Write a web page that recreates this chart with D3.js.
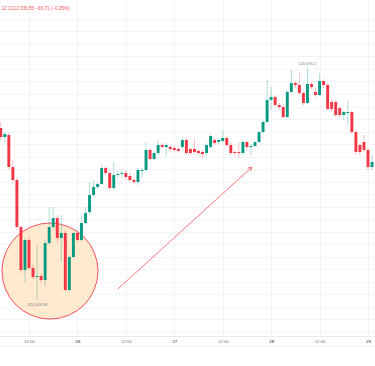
<!DOCTYPE html>
<html>
<head>
<meta charset="utf-8">
<script src="https://d3js.org/d3.v7.min.js"></script>
<style>
  html, body { margin: 0; padding: 0; background: #fff; }
  svg { display: block; font-family: "Liberation Sans", Arial, sans-serif; }
</style>
</head>
<body>
<div id="chart"></div>
<script>
// hourly candles, first one is 25 Jul 05:00
const firstHour = new Date(2025, 6, 25, 5);

const opens  = [118764,118567,118611,117912,117629,116603,115664,116319,115708,115511,
                115533,115446,116253,116603,116799,116362,116472,115227,115948,116472,
                116319,116690,116930,117301,117476,117541,117891,117781,117454,117738,
                117760,117781,117716,117629,117585,117825,117847,118284,118087,118218,
                118393,118349,118349,118327,118305,118349,118502,118305,118305,118262,
                118240,118218,118349,118502,118458,118480,118546,118393,118240,118240,
                118218,118458,118349,118371,118458,118676,118895,119375,119441,119266,
                119222,119004,119550,119746,119702,119528,119310,119724,119550,119484,
                119790,119702,119331,119331,119200,119048,119091,119113,118676,118393,
                118458,118284,117912];
const highs  = [118895,118676,118655,118065,117672,116646,116362,116406,115773,116210,
                115577,116319,117039,117039,116865,116865,116537,115991,116493,116537,
                116865,117039,117585,117629,117585,117956,117934,117847,118022,117847,
                117847,117847,117781,117672,117891,117891,118458,118327,118262,118502,
                118436,118436,118393,118371,118349,118567,118567,118349,118546,118305,
                118284,118436,118633,118546,118546,118720,118589,118436,118284,118458,
                118502,118480,118415,118480,118698,118938,119812,119659,119484,119310,
                119266,119593,120030,119790,119964,119571,120095,119768,119637,119964,
                119833,119746,119375,119375,119244,119157,119375,119157,118720,118436,
                118611,118327,118174];
const lows   = [118502,118458,117847,117519,116537,115598,115380,115664,115467,115009.58,
                115380,115293,116210,116559,116253,115839,115205,115184,115926,116275,
                116297,116646,116886,117258,117432,117519,117738,117410,117410,117672,
                117672,117629,117585,117541,117519,117694,117803,118043,118065,118174,
                118305,118131,118262,118240,118218,118305,118174,118174,118196,118174,
                118109,118174,118327,118393,118415,118436,118349,118174,118153,118109,
                118174,118284,118174,118349,118436,118655,118873,119157,119222,119157,
                118982,118982,119506,119637,119484,119266,119288,119615,119441,119462,
                119637,119157,119113,119004,118982,118938,118829,118633,118196,118174,
                118240,117847,117847];
const closes = [118567,118633,117912,117629,116603,115664,116319,115708,115511,115533,
                115446,116253,116603,116799,116362,116472,115227,115948,116472,116319,
                116690,116908,117301,117476,117541,117891,117781,117454,117738,117760,
                117781,117694,117629,117585,117847,117847,118284,118087,118218,118393,
                118349,118393,118305,118284,118262,118502,118218,118218,118240,118218,
                118196,118393,118589,118436,118502,118546,118393,118218,118218,118218,
                118458,118349,118371,118458,118676,118895,119375,119441,119266,119222,
                119004,119550,119746,119702,119528,119310,119724,119659,119484,119790,
                119702,119179,119179,119048,119048,119113,119113,118676,118240,118240,
                118284,117912,118022];

const tickTimes  = [new Date(2025,6,25,12), new Date(2025,6,26), new Date(2025,6,26,12), new Date(2025,6,27),
                    new Date(2025,6,27,12), new Date(2025,6,28), new Date(2025,6,28,12), new Date(2025,6,29)];
const tickLabels = ["12:00", "26", "12:00", "27", "12:00", "28", "12:00", "29"];

const lowLabel = "115,009.58";
const highLabel = "120,095.5";
const headerText = ".12 C112 336.55 \u221266.71 (\u22120.05%)";

// drawings: circle round the low, arrow towards the top
const circleCenter = { t: new Date(2025, 6, 25, 17, 12), p: 115642 };
const circleHours = 11.9;
const arrowFrom = { t: new Date(2025, 6, 26, 10, 0), p: 115249 };
const arrowTo   = { t: new Date(2025, 6, 27, 19, 15), p: 117912 };

const W = 375, H = 366;
const up = "#089981", down = "#f23645";

const candles = opens.map((o, i) => ({
    t: d3.timeHour.offset(firstHour, i),
    o: o, h: highs[i], l: lows[i], c: closes[i]
}));

const x = d3.scaleTime()
    .domain([tickTimes[0], tickTimes[tickTimes.length - 1]])
    .range([29, 368]);
const y = d3.scaleLinear()
    .domain([115009.58, 120095.5])
    .range([300, 67]);

const svg = d3.select("#chart").append("svg")
    .attr("width", W).attr("height", H);

svg.append("rect").attr("width", W).attr("height", H).attr("fill", "#fff");

// horizontal grid
const gridPrices = d3.range(114321, 121200, 272.9);
svg.append("g").selectAll("line").data(gridPrices).join("line")
    .attr("x1", 0).attr("x2", W)
    .attr("y1", d => Math.round(y(d)) + 0.5).attr("y2", d => Math.round(y(d)) + 0.5)
    .attr("stroke", "#f4f4f6").attr("stroke-width", 1);

// vertical grid
svg.append("g").selectAll("line").data(tickTimes).join("line")
    .attr("x1", d => Math.round(x(d)) + 0.5).attr("x2", d => Math.round(x(d)) + 0.5)
    .attr("y1", 0).attr("y2", 336)
    .attr("stroke", "#f4f4f6").attr("stroke-width", 1);

// circle highlight
const hourPx = x(d3.timeHour.offset(tickTimes[0], 1)) - x(tickTimes[0]);
svg.append("circle")
    .attr("cx", x(circleCenter.t)).attr("cy", y(circleCenter.p))
    .attr("r", circleHours * hourPx)
    .attr("fill", "#ffe9cf")
    .attr("stroke", "#f7525f").attr("stroke-width", 1);

// candles
const bw = 2.9;
const cg = svg.append("g");
cg.selectAll("line").data(candles).join("line")
    .attr("x1", d => x(d.t)).attr("x2", d => x(d.t))
    .attr("y1", d => y(d.h)).attr("y2", d => y(d.l))
    .attr("stroke", d => d.c >= d.o ? up : down)
    .attr("stroke-opacity", 0.35)
    .attr("stroke-width", 0.9);
cg.selectAll("rect").data(candles).join("rect")
    .attr("x", d => x(d.t) - bw / 2)
    .attr("width", bw)
    .attr("y", d => y(Math.max(d.o, d.c)))
    .attr("height", d => Math.max(0.8, Math.abs(y(d.o) - y(d.c))))
    .attr("fill", d => d.c >= d.o ? up : down);

// arrow
const ax1 = x(arrowFrom.t), ay1 = y(arrowFrom.p), ax2 = x(arrowTo.t), ay2 = y(arrowTo.p);
const ang = Math.atan2(ay2 - ay1, ax2 - ax1);
svg.append("line")
    .attr("x1", ax1).attr("y1", ay1).attr("x2", ax2).attr("y2", ay2)
    .attr("stroke", "#f7525f").attr("stroke-width", 0.8);
const head = 4.5;
svg.append("path")
    .attr("d", `M${ax2 + head * Math.cos(ang + Math.PI - 0.5)},${ay2 + head * Math.sin(ang + Math.PI - 0.5)}
                L${ax2},${ay2}
                L${ax2 + head * Math.cos(ang + Math.PI + 0.5)},${ay2 + head * Math.sin(ang + Math.PI + 0.5)}`)
    .attr("fill", "none").attr("stroke", "#f7525f").attr("stroke-width", 0.8);

// high / low labels
const lowC = candles[d3.minIndex(candles, d => d.l)];
const highC = candles[d3.maxIndex(candles, d => d.h)];
svg.append("text").attr("x", x(lowC.t)).attr("y", y(lowC.l) + 5.5)
    .attr("text-anchor", "middle").attr("font-size", 4).attr("fill", "#787b86")
    .text(lowLabel);
svg.append("text").attr("x", x(highC.t)).attr("y", y(highC.h) - 2.5)
    .attr("text-anchor", "middle").attr("font-size", 4).attr("fill", "#787b86")
    .text(highLabel);

// header legend
svg.append("text").attr("x", 0.5).attr("y", 9.5)
    .attr("font-size", 4.6).attr("fill", "#f7525f")
    .text(headerText);

// time axis
svg.append("line").attr("x1", 0).attr("x2", W).attr("y1", 336.5).attr("y2", 336.5)
    .attr("stroke", "#e9eaee").attr("stroke-width", 1);
svg.append("line").attr("x1", 0).attr("x2", W).attr("y1", 346.5).attr("y2", 346.5)
    .attr("stroke", "#f2f2f4").attr("stroke-width", 1);

const axis = d3.axisBottom(x)
    .tickValues(tickTimes)
    .tickFormat((d, i) => tickLabels[i])
    .tickSize(0).tickPadding(0);
const ag = svg.append("g").attr("transform", "translate(0,340)").call(axis);
ag.select(".domain").remove();
ag.selectAll("text")
    .attr("font-size", 4.3)
    .attr("font-family", "Liberation Sans, Arial, sans-serif")
    .attr("fill", (d, i) => tickLabels[i].includes(":") ? "#6a6d78" : "#131722");
</script>
</body>
</html>
